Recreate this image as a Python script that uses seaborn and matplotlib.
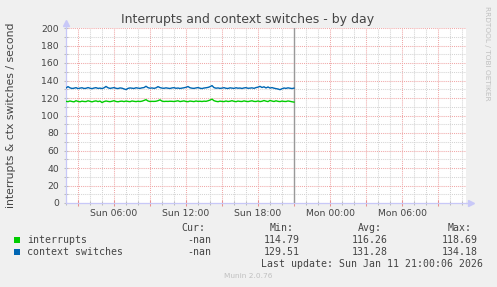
import numpy as np
import pandas as pd
import matplotlib
matplotlib.use("Agg")
import matplotlib.pyplot as plt
import matplotlib.dates as mdates
from matplotlib.ticker import MultipleLocator, FuncFormatter
from matplotlib.patches import Rectangle
import seaborn as sns

# ---------------- data ----------------
series_names = ["interrupts", "context switches"]
series_colors = ["#00CC00", "#0066B3"]

timestamps = pd.date_range("2026-01-11 02:00", "2026-01-11 21:00", freq="10min")

interrupts = [
    116.2, 115.8, 116.6, 116.0, 115.6, 116.9, 116.1, 115.7, 116.4, 116.0,
    115.9, 116.8, 116.2, 115.6, 116.3, 116.7, 115.9, 116.5, 114.8, 115.9,
    116.6, 116.1, 115.8, 116.3, 116.9, 116.0, 115.7, 116.2, 116.4, 115.9,
    116.5, 116.1, 115.8, 116.6, 116.2, 115.9, 116.3, 116.0, 116.4, 117.2,
    118.1, 116.6, 116.0, 116.2, 116.1, 116.3, 116.9, 117.9, 116.4, 116.0,
    116.2, 116.1, 116.3, 116.2, 116.0, 116.4, 116.8, 115.9, 116.3, 116.7,
    116.0, 115.8, 116.5, 116.2, 115.9, 116.6, 116.1, 116.3, 116.0, 116.4,
    116.2, 116.8, 117.6, 118.69, 116.9, 116.2, 115.8, 116.4, 116.1, 115.9,
    116.6, 116.0, 116.3, 116.9, 116.2, 115.8, 116.5, 116.1, 116.0, 116.7,
    116.2, 115.9, 116.4, 116.8, 116.1, 116.0, 116.6, 115.9, 116.3, 117.1,
    116.4, 115.9, 117.2, 116.5, 116.0, 116.8, 116.2, 115.9, 116.5, 116.1,
    116.0, 116.6, 116.2, 115.7, 115.3,
]

context_switches = [
    131.4, 133.0, 131.6, 130.9, 131.2, 131.8, 130.8, 131.3, 131.7, 130.9,
    131.1, 131.9, 131.2, 130.7, 131.4, 131.8, 131.0, 131.3, 130.8, 131.6,
    133.2, 131.7, 131.0, 131.4, 131.9, 131.1, 130.8, 131.5, 131.2, 130.4,
    129.6, 131.0, 131.5, 131.2, 130.9, 131.7, 131.3, 131.0, 131.6, 131.9,
    133.4, 131.8, 131.2, 131.5, 131.0, 131.6, 133.0, 131.9, 131.3, 131.1,
    131.6, 131.2, 130.9, 131.5, 131.8, 131.1, 131.4, 130.9, 131.3, 131.7,
    132.2, 133.1, 131.7, 131.2, 131.0, 131.5, 131.9, 131.2, 130.8, 131.4,
    131.7, 132.1, 132.9, 134.18, 131.9, 131.2, 131.5, 131.0, 131.3, 131.8,
    131.1, 130.9, 131.6, 131.3, 131.0, 131.7, 131.2, 131.4, 130.9, 131.5,
    131.8, 131.1, 131.3, 131.6, 131.0, 131.9, 132.4, 133.3, 132.0, 132.8,
    131.5, 132.6, 131.4, 131.9, 131.2, 130.7, 130.3, 129.51, 130.6, 131.4,
    131.0, 131.6, 131.2, 130.8, 131.3,
]

stat_headers = ["Cur:", "Min:", "Avg:", "Max:"]
stats_interrupts = ["-nan", "114.79", "116.26", "118.69"]
stats_ctx = ["-nan", "129.51", "131.28", "134.18"]

x_start = pd.Timestamp("2026-01-11 02:00")
x_end = pd.Timestamp("2026-01-12 11:20")
last_update = pd.Timestamp("2026-01-11 21:00")
y_min, y_max = 0, 200

title = "Interrupts and context switches - by day"
ylabel = "interrupts & ctx switches / second"
last_update_text = "Last update: Sun Jan 11 21:00:06 2026"
watermark = "RRDTOOL / TOBI OETIKER"
footer = "Munin 2.0.76"

# ---------------- figure ----------------
W, H = 497, 287
BG = "#F0F0F0"
TXT = "#444444"
MAJOR = "#F0A8A8"
MINOR = "#D4D4D4"
AXISC = "#C8C8F8"

fig = plt.figure(figsize=(W / 100, H / 100), dpi=100, facecolor=BG)
ax = fig.add_axes([66 / W, 84 / H, 400 / W, 175 / H], facecolor="white")

df = pd.DataFrame({
    "time": list(timestamps) * 2,
    "value": interrupts + context_switches,
    "series": [series_names[0]] * len(timestamps) + [series_names[1]] * len(timestamps),
})
sns.lineplot(data=df, x="time", y="value", hue="series", hue_order=series_names,
             palette=series_colors, legend=False, ax=ax, linewidth=1.0, zorder=5)

ax.set_xlim(x_start, x_end)
ax.set_ylim(y_min, y_max)
ax.set_xlabel("")
ax.set_ylabel("")

# grid & ticks
ax.xaxis.set_major_locator(mdates.HourLocator(byhour=range(0, 24, 3)))
ax.xaxis.set_minor_locator(mdates.HourLocator())


def fmt_x(v, pos):
    d = mdates.num2date(v)
    if d.hour % 6 == 0:
        return d.strftime("%a %H:%M")
    return ""


ax.xaxis.set_major_formatter(FuncFormatter(fmt_x))
ax.yaxis.set_major_locator(MultipleLocator(20))
ax.yaxis.set_minor_locator(MultipleLocator(10))

dots = (0, (1, 1))
ax.grid(which="minor", color=MINOR, linestyle=dots, linewidth=0.75, zorder=0)
ax.grid(which="major", color=MAJOR, linestyle=dots, linewidth=0.75, zorder=1)
ax.set_axisbelow(True)

ax.tick_params(axis="x", which="major", direction="inout", length=4, width=0.75,
               color="#E89090", labelsize=6.7, labelcolor=TXT, pad=2)
ax.tick_params(axis="x", which="minor", direction="inout", length=3, width=0.75,
               color="#BBBBBB")
ax.tick_params(axis="y", which="major", direction="inout", length=3, width=0.75,
               color="#BBBBBB", labelsize=6.7, labelcolor=TXT, pad=3.6)
ax.tick_params(axis="y", which="minor", direction="inout", length=3, width=0.75,
               color="#BBBBBB")
for lab in ax.get_xticklabels() + ax.get_yticklabels():
    lab.set_fontfamily("DejaVu Sans")

for s in ["top", "right"]:
    ax.spines[s].set_visible(False)
for s in ["left", "bottom"]:
    ax.spines[s].set_color(AXISC)
    ax.spines[s].set_linewidth(0.9)

# axis arrows
ax.plot([1.012], [0], marker=">", markersize=5, color=AXISC, transform=ax.transAxes,
        clip_on=False, zorder=6)
ax.plot([1.0, 1.012], [0, 0], color=AXISC, lw=0.9, transform=ax.transAxes, clip_on=False)
ax.plot([0], [1.028], marker="^", markersize=5, color=AXISC, transform=ax.transAxes,
        clip_on=False, zorder=6)
ax.plot([0, 0], [1.0, 1.028], color=AXISC, lw=0.9, transform=ax.transAxes, clip_on=False)

# last update rule
ax.axvline(last_update, color="#999999", linewidth=1.0, zorder=4)


def px(x, y):
    return x / W, 1 - y / H


fig.text(*px(248, 19), title, ha="center", va="center", fontsize=9, color=TXT,
         family="DejaVu Sans")
fig.text(*px(11, 115), ylabel, ha="center", va="center", rotation=90, fontsize=7.8,
         color=TXT, family="DejaVu Sans")
fig.text(*px(487, 53), watermark, ha="center", va="center", rotation=270, fontsize=5.3,
         color="#C0C0C0", family="DejaVu Sans")

MONO = "DejaVu Sans Mono"
LS = 7.1
col_right = [211, 300, 388, 477.5]
for xr, h in zip(col_right, stat_headers):
    fig.text(*px(xr - 6, 228), h, ha="right", va="center", fontsize=LS, family=MONO, color=TXT)

rows_y = [240, 252]
for name, color, stats, yy in zip(series_names, series_colors,
                                  [stats_interrupts, stats_ctx], rows_y):
    fig.patches.append(Rectangle(((14) / W, 1 - (yy + 3) / H), 6 / W, 6 / H,
                                 transform=fig.transFigure, facecolor=color,
                                 edgecolor="none"))
    fig.text(*px(27, yy), name, ha="left", va="center", fontsize=LS, family=MONO, color=TXT)
    for xr, v in zip(col_right, stats):
        fig.text(*px(xr, yy), v, ha="right", va="center", fontsize=LS, family=MONO, color=TXT)

fig.text(*px(483, 264), last_update_text, ha="right", va="center", fontsize=LS,
         family=MONO, color=TXT)
fig.text(*px(248, 276.5), footer, ha="center", va="center", fontsize=5.3,
         color="#C0C0C0", family="DejaVu Sans")

fig.savefig("out.png", dpi=100, facecolor=BG)
